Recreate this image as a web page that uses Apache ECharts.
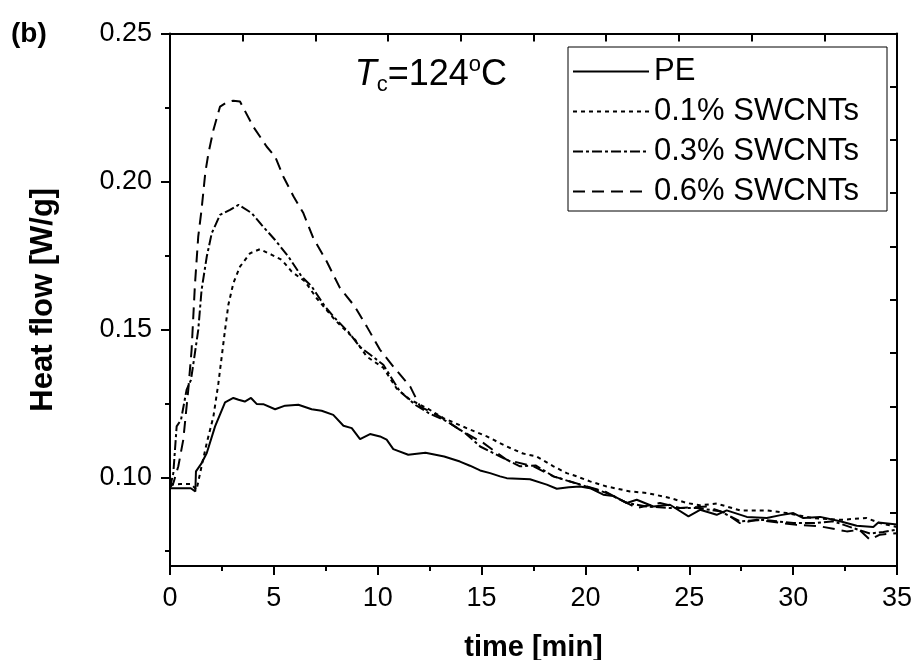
<!DOCTYPE html>
<html>
<head>
<meta charset="utf-8">
<script src="https://cdn.jsdelivr.net/npm/echarts@6/dist/echarts.min.js"></script>
<style>
html,body{margin:0;padding:0;background:#fff;}
#chart{width:913px;height:660px;}
</style>
</head>
<body>
<div id="chart"></div>
<script>
// ---- data ----
const seriesNames = ['PE', '0.1% SWCNTs', '0.3% SWCNTs', '0.6% SWCNTs'];

const tPE = [0, 0.5, 1.0, 1.22, 1.25, 1.5, 1.77, 2.17, 2.65, 3.05, 3.3, 3.6, 3.9, 4.17, 4.49, 5.06, 5.54, 6.18, 6.82, 7.3, 7.86, 8.35, 8.75, 9.15, 9.63, 10.11, 10.43, 10.75, 11.47, 12.3, 13.2, 13.96, 14.44, 14.93, 15.41, 15.89, 16.21, 17.33, 18.14, 18.62, 19.2, 19.74, 20.22, 20.86, 21.34, 21.99, 22.47, 23.27, 24.07, 24.96, 25.52, 26.32, 26.8, 27.77, 28.73, 29.4, 30.01, 30.49, 31.3, 32.26, 33.06, 33.86, 34.1, 35];
const vPE = [0.0963, 0.0963, 0.0963, 0.0952, 0.1020, 0.1045, 0.1082, 0.1172, 0.1253, 0.1268, 0.1262, 0.1256, 0.1268, 0.1248, 0.1247, 0.1230, 0.1242, 0.1245, 0.1230, 0.1225, 0.1211, 0.1174, 0.1166, 0.1129, 0.1146, 0.1138, 0.1127, 0.1095, 0.1076, 0.1083, 0.1070, 0.1053, 0.1039, 0.1023, 0.1014, 0.1003, 0.0997, 0.0993, 0.0975, 0.0961, 0.0966, 0.0969, 0.0963, 0.0941, 0.0937, 0.0913, 0.0924, 0.0901, 0.0907, 0.0868, 0.0890, 0.0873, 0.0888, 0.0866, 0.0862, 0.0872, 0.0879, 0.0862, 0.0866, 0.0851, 0.0836, 0.0832, 0.0847, 0.0840];

const t01 = [0, 0.5, 1.0, 1.28, 1.52, 1.77, 2.09, 2.33, 2.49, 2.65, 2.81, 3.05, 3.37, 3.85, 4.33, 4.9, 5.38, 5.86, 6.5, 7.06, 7.94, 8.91, 9.47, 10.27, 10.91, 11.56, 12.36, 13.16, 14.28, 15.25, 16.21, 17.0, 17.65, 18.46, 19.1, 19.58, 20.22, 21.02, 22.15, 22.95, 24.07, 24.88, 25.5, 26.32, 27.44, 28.73, 29.69, 30.97, 32.26, 33.54, 34.18, 35];
const v01 = [0.0975, 0.0977, 0.0977, 0.0958, 0.1037, 0.1116, 0.1205, 0.1318, 0.1408, 0.1498, 0.1583, 0.1656, 0.1712, 0.1757, 0.1771, 0.1752, 0.1735, 0.1695, 0.1662, 0.1605, 0.1532, 0.1465, 0.1408, 0.1370, 0.1300, 0.1262, 0.1234, 0.1200, 0.1166, 0.1138, 0.1104, 0.1080, 0.1070, 0.1037, 0.1014, 0.1003, 0.0986, 0.0969, 0.0952, 0.0947, 0.0930, 0.0913, 0.0905, 0.0911, 0.0888, 0.0888, 0.0879, 0.0862, 0.0856, 0.0862, 0.0845, 0.0832];

const t03 = [0, 0.16, 0.32, 0.53, 0.8, 1.01, 1.2, 1.36, 1.52, 1.77, 2.01, 2.41, 2.89, 3.3, 3.93, 4.41, 5.06, 5.7, 6.34, 6.82, 7.46, 7.94, 8.6, 9.15, 9.63, 10.27, 11.07, 11.8, 12.5, 13.3, 14.2, 14.93, 15.9, 16.85, 17.6, 18.46, 19.74, 21.02, 21.99, 22.95, 24.07, 25.36, 26.48, 27.44, 28.57, 30.01, 30.97, 31.94, 32.9, 33.7, 34.34, 35];
const v03 = [0.0965, 0.1014, 0.1172, 0.1194, 0.1296, 0.1329, 0.1420, 0.1498, 0.1633, 0.1746, 0.1825, 0.1887, 0.1904, 0.1921, 0.1893, 0.1853, 0.1802, 0.1746, 0.1678, 0.1645, 0.1577, 0.1538, 0.1490, 0.1440, 0.1415, 0.1380, 0.1290, 0.1245, 0.1215, 0.1190, 0.1150, 0.1104, 0.1070, 0.1037, 0.1040, 0.1003, 0.0975, 0.0947, 0.0913, 0.0901, 0.0896, 0.0896, 0.0885, 0.0851, 0.0856, 0.0845, 0.0845, 0.0851, 0.0828, 0.0810, 0.0815, 0.0823];

const t06 = [0, 0.16, 0.4, 0.64, 0.88, 1.04, 1.2, 1.36, 1.52, 1.7, 1.85, 2.09, 2.41, 2.75, 3.05, 3.37, 4.01, 4.65, 5.06, 5.46, 5.95, 6.42, 6.9, 7.54, 8.18, 8.9, 9.47, 10.11, 10.75, 11.56, 12.04, 13.0, 13.96, 15.08, 16.21, 17.49, 18.46, 20.06, 21.0, 21.83, 22.47, 23.59, 24.55, 25.84, 26.7, 27.44, 28.25, 30.17, 31.3, 32.58, 33.2, 33.7, 34.18, 35];
const v06 = [0.0965, 0.0980, 0.1037, 0.1127, 0.1296, 0.1431, 0.1650, 0.1814, 0.1905, 0.2030, 0.2095, 0.2174, 0.2253, 0.2268, 0.2273, 0.2270, 0.2185, 0.2118, 0.2084, 0.2016, 0.1949, 0.1893, 0.1808, 0.1730, 0.1640, 0.1577, 0.1510, 0.1431, 0.1374, 0.1307, 0.1239, 0.1205, 0.1160, 0.1116, 0.1059, 0.1037, 0.1003, 0.0969, 0.0950, 0.0919, 0.0896, 0.0913, 0.0896, 0.0901, 0.0880, 0.0845, 0.0856, 0.0839, 0.0834, 0.0817, 0.0822, 0.0789, 0.0806, 0.0811];

const yMajorTicks = [0.10, 0.15, 0.20, 0.25];
const yMinorTicks = [0.075, 0.125, 0.175, 0.225];

// ---- chart ----
const FONT = "'Liberation Sans', Arial, Helvetica, sans-serif";
function pairs(t, v) { return t.map((x, i) => [x, v[i]]); }

const dashes = ['solid', [4, 4], [10, 3, 3, 3], [12, 7]];
const allT = [tPE, t01, t03, t06];
const allV = [vPE, v01, v03, v06];

const chart = echarts.init(document.getElementById('chart'), null, {renderer: 'canvas'});

const axisLineStyle = {color: '#000', width: 2};

const option = {
  backgroundColor: '#fff',
  animation: false,
  title: {
    text: '(b)', left: 6, top: 15,
    textStyle: {fontFamily: FONT, fontSize: 28, fontWeight: 'bold', color: '#000'}
  },
  grid: {left: 170, right: 16, top: 33.5, bottom: 94, containLabel: false, outerBoundsMode: 'none'},
  legend: {
    orient: 'vertical', left: 568, top: 47,
    data: seriesNames,
    backgroundColor: '#fff', borderColor: '#000', borderWidth: 1,
    padding: [9, 5, 4, 4],
    itemWidth: 76, itemHeight: 14, itemGap: 9,
    itemStyle: {opacity: 0},
    textStyle: {fontFamily: FONT, fontSize: 31, color: '#000', width: 228, lineHeight: 31}
  },
  graphic: [{
    type: 'text', right: 406, top: 54,
    style: {
      text: '{t|T}{s|c}{n|=124}{o|o}{n|C}',
      rich: {
        t: {fontFamily: FONT, fontStyle: 'italic', fontSize: 36, lineHeight: 42, fill: '#000'},
        s: {fontFamily: FONT, fontSize: 22, lineHeight: 22, verticalAlign: 'bottom', fill: '#000'},
        n: {fontFamily: FONT, fontSize: 36, lineHeight: 42, fill: '#000'},
        o: {fontFamily: FONT, fontSize: 22, lineHeight: 22, verticalAlign: 'top', fill: '#000'}
      }
    }
  }],
  xAxis: [{
    type: 'value', position: 'bottom', min: 0, max: 35, interval: 5,
    axisLine: {show: true, lineStyle: axisLineStyle},
    axisTick: {show: true, inside: false, length: 9, lineStyle: {color: '#000', width: 2}},
    minorTick: {show: true, splitNumber: 2, length: 5, lineStyle: {color: '#000', width: 2}},
    splitLine: {show: false},
    axisLabel: {fontFamily: FONT, fontSize: 27, color: '#000', margin: 19},
    name: 'time [min]', nameLocation: 'middle', nameGap: 67,
    nameTextStyle: {fontFamily: FONT, fontSize: 29, fontWeight: 'bold', color: '#000'}
  }, {
    type: 'value', position: 'top', min: 0, max: 35, interval: 3.5,
    axisLine: {show: true, lineStyle: axisLineStyle},
    axisTick: {show: true, inside: true, length: 8, lineStyle: {color: '#000', width: 2}},
    axisLabel: {show: false}, splitLine: {show: false}
  }],
  yAxis: [{
    type: 'value', position: 'left', min: 0.07, max: 0.25,
    axisLine: {show: true, lineStyle: axisLineStyle},
    axisTick: {show: true, inside: false, length: 9, customValues: yMajorTicks, lineStyle: {color: '#000', width: 2}},
    axisLabel: {fontFamily: FONT, fontSize: 27, color: '#000', margin: 18, customValues: yMajorTicks,
      formatter: v => v.toFixed(2)},
    splitLine: {show: false},
    name: 'Heat flow [W/g]', nameLocation: 'middle', nameGap: 111, nameRotate: 90,
    nameTextStyle: {fontFamily: FONT, fontSize: 31, fontWeight: 'bold', color: '#000'}
  }, {
    type: 'value', position: 'left', min: 0.07, max: 0.25,
    axisLine: {show: false},
    axisTick: {show: true, inside: false, length: 5, customValues: yMinorTicks, lineStyle: {color: '#000', width: 2}},
    axisLabel: {show: false}, splitLine: {show: false}
  }, {
    type: 'value', position: 'right', min: 0.07, max: 0.25, interval: 0.018,
    axisLine: {show: true, lineStyle: axisLineStyle},
    axisTick: {show: true, inside: true, length: 7, lineStyle: {color: '#000', width: 2}},
    axisLabel: {show: false}, splitLine: {show: false}
  }],
  series: seriesNames.map((name, i) => ({
    name: name, type: 'line', xAxisIndex: 0, yAxisIndex: 0,
    data: pairs(allT[i], allV[i]),
    showSymbol: false, symbol: 'none', smooth: false,
    lineStyle: {color: '#000', width: 2, type: dashes[i]},
    itemStyle: {color: '#000'},
    z: 3 + i
  }))
};
chart.setOption(option);
</script>
</body>
</html>
